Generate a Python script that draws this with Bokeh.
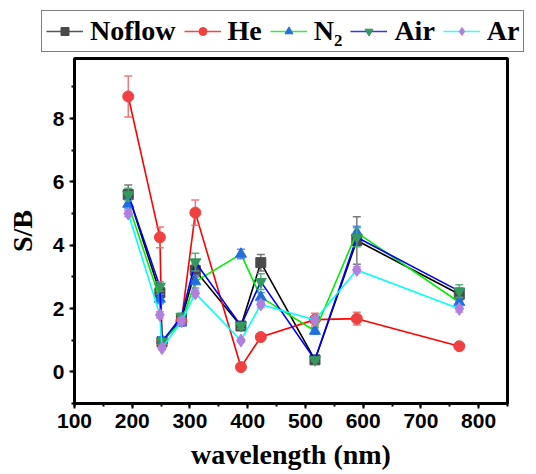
from bokeh.plotting import figure
from bokeh.layouts import column
from bokeh.models import Range1d, SingleIntervalTicker, Legend, LegendItem, ColumnDataSource
from bokeh.embed import file_html
from bokeh.resources import INLINE

# ---- data ----
wavelength = [193.1, 247.9, 251.6, 285.2, 309.3, 388.3, 422.7, 516.5, 589.0, 766.5]

noflow = [5.60, 2.50, 0.95, 1.65, 3.20, 1.45, 3.45, 0.38, 4.15, 2.45]
noflow_err = [0.30, 0.15, 0.10, 0.10, 0.20, 0.10, 0.26, 0.05, 0.75, 0.20]

he = [8.70, 4.25, 0.95, 1.60, 5.03, 0.15, 1.10, 1.65, 1.68, 0.81]
he_err = [0.65, 0.33, 0.10, 0.10, 0.40, 0.05, 0.05, 0.20, 0.20, 0.05]

n2 = [5.30, 2.30, 1.00, 1.55, 2.85, 3.72, 2.36, 1.29, 4.40, 2.20]
n2_err = [0.15, 0.15, 0.10, 0.10, 0.20, 0.15, 0.15, 0.10, 0.20, 0.15]

air = [5.60, 2.70, 0.95, 1.75, 3.47, 1.46, 2.85, 0.38, 4.25, 2.55]
air_err = [0.20, 0.15, 0.10, 0.10, 0.28, 0.10, 0.25, 0.05, 0.30, 0.20]

ar = [5.00, 1.80, 0.75, 1.60, 2.48, 0.99, 2.13, 1.64, 3.22, 1.99]
ar_err = [0.10, 0.10, 0.05, 0.10, 0.10, 0.05, 0.10, 0.10, 0.10, 0.10]

series_names = ["Noflow", "He", "N\u2082", "Air", "Ar"]
series_values = [noflow, he, n2, air, ar]
series_errors = [noflow_err, he_err, n2_err, air_err, ar_err]

line_colors = ["#000000", "#ff0000", "#00ee00", "#0000ff", "#00ffff"]
legend_line_colors = ["#555555", "#ff4040", "#33ee33", "#3333ff", "#33ffff"]
marker_colors = ["#4a4a4a", "#ef4141", "#2070dc", "#33995e", "#b07fe0"]
err_colors = ["#6a6a6a", "#f06a6a", "#4a8ae6", "#4aa878", "#b58fe0"]
markers = ["square", "circle", "triangle", "inverted_triangle", "diamond"]
marker_sizes = [10, 11, 11, 11, 13]

# ---- main plot ----
p = figure(width=536, height=416, output_backend="svg", toolbar_location=None,
           x_range=Range1d(100, 850), y_range=Range1d(-1.0, 9.9),
           min_border_left=74, min_border_right=29, min_border_top=2, min_border_bottom=68)
p.frame_align = False
p.xgrid.visible = False
p.ygrid.visible = False
p.outline_line_color = "black"
p.outline_line_width = 3
p.background_fill_color = "white"
p.border_fill_color = "white"

# ---- legend strip (its frame fills the whole strip; data lie outside its ranges) ----
lg = figure(width=536, height=56, output_backend="svg", toolbar_location=None,
            x_range=Range1d(0, 1), y_range=Range1d(0, 1),
            x_axis_location=None, y_axis_location=None,
            min_border_left=0, min_border_right=0, min_border_top=0, min_border_bottom=0)
lg.frame_align = False
lg.xgrid.visible = False
lg.ygrid.visible = False
lg.outline_line_color = None
lg.border_fill_color = "white"
lg.background_fill_color = "white"

items = []
for name, vals, errs, lc, llc, mc, ec, mk, ms in zip(series_names, series_values, series_errors,
                                                     line_colors, legend_line_colors, marker_colors,
                                                     err_colors, markers, marker_sizes):
    upper = [v + e for v, e in zip(vals, errs)]
    lower = [v - e for v, e in zip(vals, errs)]
    src = ColumnDataSource(dict(x=wavelength, y=vals, up=upper, lo=lower))
    p.line("x", "y", source=src, line_color=lc, line_width=1.6)
    p.segment(x0="x", y0="lo", x1="x", y1="up", source=src, line_color=ec, line_width=1.5, line_alpha=0.9)
    p.scatter("x", "up", source=src, marker="dash", size=8, line_color=ec, line_width=1.5, line_alpha=0.9)
    p.scatter("x", "lo", source=src, marker="dash", size=8, line_color=ec, line_width=1.5, line_alpha=0.9)
    p.scatter("x", "y", source=src, marker=mk, size=ms, fill_color=mc, line_color=mc, line_width=1)

    l_line = lg.line("x", "y", source=src, line_color=llc, line_width=1.6)
    l_sc = lg.scatter("x", "y", source=src, marker=mk, fill_color=mc, line_color=mc)
    items.append(LegendItem(label=name, renderers=[l_line, l_sc]))

legend = Legend(items=items, orientation="horizontal", location=(41, 4),
                label_text_font="Liberation Serif", label_text_font_style="bold",
                label_text_font_size="28px", label_text_color="black",
                glyph_width=37, glyph_height=20, label_standoff=7, spacing=8, padding=4, margin=0,
                border_line_color="black", border_line_width=1.5,
                background_fill_color="white", background_fill_alpha=1.0)
lg.add_layout(legend, "center")

for ax in (p.xaxis[0], p.yaxis[0]):
    ax.axis_line_width = 3
    ax.axis_line_color = "black"
    ax.major_tick_line_width = 2
    ax.minor_tick_line_width = 2
    ax.major_tick_in = 0
    ax.major_tick_out = 5
    ax.minor_tick_in = 0
    ax.minor_tick_out = 3
    ax.major_label_text_font = "Liberation Sans"
    ax.major_label_text_font_style = "bold"
    ax.major_label_text_font_size = "21px"
    ax.major_label_text_color = "black"
    ax.axis_label_text_font = "Liberation Serif"
    ax.axis_label_text_font_style = "bold"
    ax.axis_label_text_font_size = "28px"
    ax.axis_label_text_color = "black"
    ax.major_label_standoff = 5

p.xaxis[0].ticker = SingleIntervalTicker(interval=100, num_minor_ticks=2)
p.yaxis[0].ticker = SingleIntervalTicker(interval=2, num_minor_ticks=2)
p.xaxis[0].axis_label = "wavelength (nm)"
p.yaxis[0].axis_label = "S/B"
p.xaxis[0].axis_label_standoff = 8
p.yaxis[0].axis_label_standoff = 12

layout = column(lg, p, spacing=0)
open("out.html", "w").write(file_html(layout, INLINE))
